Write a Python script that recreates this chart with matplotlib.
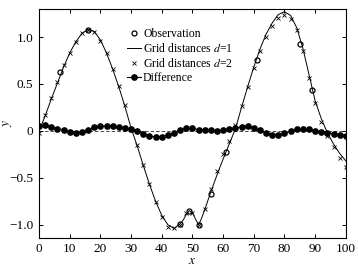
import matplotlib
matplotlib.use('Agg')
import matplotlib.pyplot as plt
import numpy as np

plt.rcParams['font.family'] = 'Liberation Serif'
plt.rcParams['mathtext.fontset'] = 'stix'

# observations
obs_x = [7, 16, 46, 49, 52, 56, 61, 71, 85, 89]
obs_y = [0.63, 1.07, -0.99, -0.85, -1.00, -0.67, -0.22, 0.76, 0.93, 0.44]

# grid distance d=1 (solid line)
d1_x = [0, 2, 4, 6, 8, 10, 12, 14, 16, 18, 20, 22, 24, 26, 28, 30, 32, 34, 36, 38,
        40, 42, 44, 46, 47, 48, 49, 50, 51, 52, 53, 54, 56, 58, 60, 62, 64, 66, 68,
        70, 72, 74, 76, 78, 80, 82, 84, 86, 88, 90, 92, 94, 96, 98, 100]
d1_y = [0.00, 0.16, 0.34, 0.51, 0.68, 0.83, 0.95, 1.04, 1.08, 1.06, 0.97, 0.83, 0.66,
        0.47, 0.26, 0.03, -0.16, -0.37, -0.57, -0.75, -0.90, -1.00, -1.04, -0.99,
        -0.95, -0.89, -0.85, -0.87, -0.94, -1.00, -0.93, -0.84, -0.65, -0.47, -0.30,
        -0.14, 0.02, 0.25, 0.47, 0.68, 0.87, 1.03, 1.15, 1.24, 1.27, 1.23, 1.10, 0.88,
        0.60, 0.32, 0.13, -0.02, -0.14, -0.24, -0.32]

# grid distance d=2 (x markers) and difference, every 2 units
grid_x = list(range(0, 101, 2))
d2_y = [-0.02, 0.17, 0.35, 0.52, 0.70, 0.83, 0.95, 1.04, 1.07, 1.05, 0.96, 0.83, 0.66,
        0.48, 0.28, 0.01, -0.15, -0.36, -0.57, -0.76, -0.92, -1.02, -1.04, -1.00,
        -0.88, -0.87, -1.00, -0.83, -0.62, -0.43, -0.25, -0.11, 0.06, 0.26, 0.47,
        0.67, 0.85, 1.00, 1.12, 1.20, 1.24, 1.19, 1.08, 0.85, 0.56, 0.30, 0.10,
        -0.05, -0.17, -0.29, -0.38]
diff_y = [0.05, 0.06, 0.04, 0.025, 0.01, -0.01, -0.02, -0.015, 0.005, 0.04, 0.05, 0.05,
          0.05, 0.04, 0.03, 0.015, 0.0, -0.03, -0.055, -0.065, -0.06, -0.04, -0.02,
          0.005, 0.03, 0.03, 0.01, 0.005, 0.005, -0.005, 0.005, 0.02, 0.03, 0.045,
          0.05, 0.03, 0.005, -0.02, -0.04, -0.045, -0.02, -0.005, 0.015, 0.02, 0.015,
          0.0, -0.01, -0.02, -0.03, -0.04, -0.05]

fig = plt.figure(figsize=(3.58, 2.70), dpi=100)
ax = fig.add_axes([0.109, 0.119, 0.857, 0.848])

ax.axhline(0, color='k', lw=0.5, ls=(0, (5, 3)))
ax.plot(obs_x, obs_y, ls='none', marker='o', ms=3.6, mfc='none', mec='k', mew=0.9,
        label='Observation')
ax.plot(d1_x, d1_y, color='k', lw=0.7, label='Grid distances $d$=1')
ax.plot(grid_x, d2_y, ls='none', marker='x', ms=2.2, mec='k', mew=0.6,
        label='Grid distances $d$=2')
ax.plot(grid_x, diff_y, color='k', lw=0.8, marker='o', ms=3.8, mfc='k', mec='k',
        label='Difference')

ax.set_xlim(0, 100)
ax.set_ylim(-1.14, 1.30)
ax.set_xticks(np.arange(0, 101, 10))
ax.set_yticks([-1.0, -0.5, 0, 0.5, 1.0])
ax.set_yticklabels(['\u22121.0', '\u22120.5', '0', '0.5', '1.0'])
ax.tick_params(direction='in', length=3, width=0.7, top=True, right=True,
               labelsize=9.5, pad=4)
for s in ax.spines.values():
    s.set_linewidth(0.8)

ax.set_xlabel('$x$', fontsize=9.5)
ax.set_ylabel('$y$', fontsize=9.5)
ax.xaxis.set_label_coords(0.5, -0.075)
ax.yaxis.set_label_coords(-0.08, 0.5)

ax.legend(loc='upper left', bbox_to_anchor=(0.287, 0.915), frameon=False,
          fontsize=8.5, handlelength=1.2, handletextpad=0.15, labelspacing=0.15,
          borderpad=0, borderaxespad=0)

fig.savefig('out.png', dpi=100)
